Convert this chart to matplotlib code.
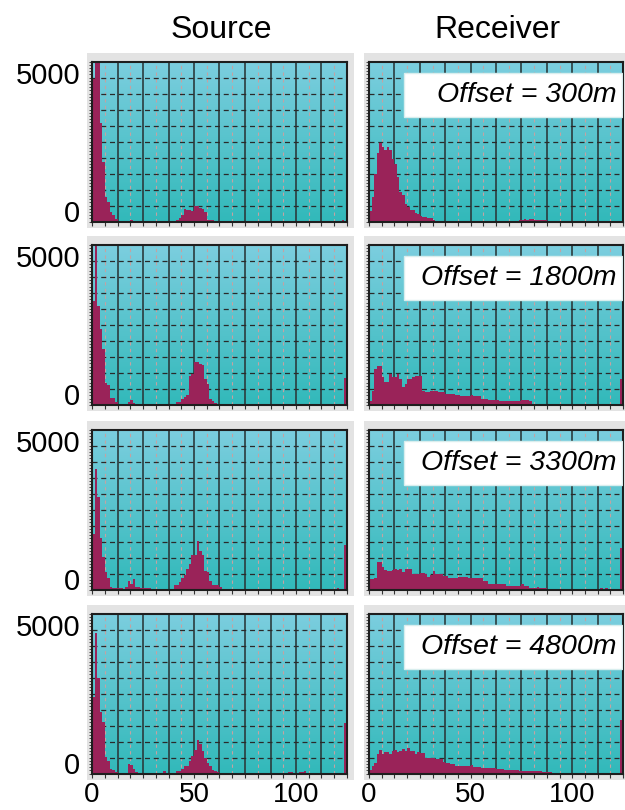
import numpy as np
import matplotlib
matplotlib.use('Agg')
import matplotlib.pyplot as plt
from matplotlib.patches import Rectangle
from matplotlib.ticker import MultipleLocator

# fold counts per bin: 100 bins of width 1.25 covering 0-125
src_300 = [4450, 5600, 5600, 3080, 1865, 760, 600, 290, 190, 90,
           30, 0, 0, 0, 0, 40, 0, 0, 0, 0,
           0, 0, 0, 0, 0, 0, 0, 0, 20, 0,
           0, 0, 0, 60, 100, 210, 380, 350, 350, 340,
           480, 470, 420, 380, 290, 60, 50, 50, 0, 0,
           0, 0, 0, 0, 0, 0, 0, 0, 0, 0,
           0, 0, 0, 0, 0, 0, 0, 0, 0, 0,
           0, 0, 0, 0, 0, 0, 0, 0, 0, 0,
           0, 0, 0, 0, 0, 0, 0, 0, 0, 0,
           0, 0, 0, 0, 0, 0, 0, 0, 40, 0]
rcv_300 = [325, 765, 1500, 2130, 2460, 2320, 2230, 2320, 2230, 1940,
           1810, 1390, 920, 820, 555, 450, 345, 345, 260, 220,
           170, 135, 135, 115, 115, 50, 30, 30, 20, 10,
           10, 0, 30, 0, 0, 0, 0, 0, 0, 0,
           0, 0, 0, 0, 0, 0, 0, 0, 0, 0,
           0, 0, 0, 0, 0, 0, 0, 0, 0, 60,
           60, 80, 60, 70, 70, 60, 60, 50, 50, 40,
           30, 0, 0, 0, 0, 0, 0, 0, 0, 0,
           0, 0, 0, 0, 0, 0, 0, 0, 0, 0,
           0, 0, 0, 0, 0, 0, 0, 0, 0, 0]
src_1800 = [3260, 5400, 3100, 2375, 1750, 680, 635, 220, 220, 85,
            30, 0, 0, 0, 85, 155, 50, 0, 0, 0,
            0, 0, 0, 0, 0, 0, 0, 0, 0, 40,
            40, 40, 40, 100, 100, 190, 240, 310, 920, 970,
            1330, 1330, 1280, 1260, 810, 655, 190, 135, 50, 0,
            30, 0, 0, 0, 0, 0, 0, 0, 0, 0,
            0, 0, 0, 0, 0, 0, 0, 0, 0, 0,
            0, 0, 0, 0, 0, 0, 0, 0, 0, 0,
            0, 0, 0, 0, 0, 0, 0, 0, 0, 0,
            0, 0, 0, 0, 0, 0, 0, 0, 0, 835]
rcv_1800 = [135, 450, 1125, 1230, 1230, 865, 710, 710, 970, 865,
            865, 970, 810, 550, 655, 810, 810, 865, 920, 920,
            920, 450, 395, 395, 430, 430, 430, 395, 395, 395,
            345, 345, 345, 345, 320, 320, 270, 270, 270, 270,
            310, 270, 270, 270, 190, 190, 190, 155, 155, 155,
            155, 135, 135, 115, 115, 135, 115, 115, 115, 135,
            155, 155, 155, 115, 30, 30, 10, 30, 30, 0,
            0, 0, 0, 0, 0, 0, 0, 0, 0, 0,
            0, 0, 0, 0, 0, 0, 0, 0, 0, 0,
            0, 0, 0, 0, 0, 0, 0, 0, 0, 810]
src_3300 = [1740, 3770, 2905, 1615, 1010, 540, 365, 75, 50, 50,
            40, 40, 20, 70, 260, 180, 330, 85, 85, 50,
            50, 50, 50, 0, 30, 0, 0, 0, 30, 0,
            30, 0, 135, 135, 240, 350, 450, 650, 790, 1070,
            1090, 1510, 1200, 1070, 570, 550, 270, 155, 135, 130,
            80, 20, 0, 0, 0, 0, 0, 0, 0, 0,
            0, 0, 0, 0, 0, 0, 0, 0, 0, 0,
            0, 0, 0, 0, 0, 0, 0, 0, 0, 0,
            0, 0, 0, 0, 0, 0, 0, 0, 0, 0,
            0, 0, 0, 0, 0, 0, 50, 0, 0, 1400]
rcv_3300 = [320, 340, 350, 860, 860, 700, 600, 570, 570, 600,
            655, 600, 655, 560, 630, 630, 630, 500, 500, 500,
            530, 530, 470, 395, 450, 570, 500, 470, 470, 425,
            425, 365, 365, 365, 365, 385, 385, 385, 385, 365,
            365, 365, 345, 345, 345, 280, 280, 165, 165, 185,
            185, 185, 165, 165, 115, 115, 115, 115, 115, 115,
            165, 115, 115, 50, 50, 50, 80, 50, 50, 50,
            0, 0, 0, 0, 0, 0, 0, 0, 0, 0,
            0, 0, 0, 0, 0, 0, 0, 0, 0, 0,
            0, 50, 0, 50, 0, 0, 0, 0, 0, 1300]
src_4800 = [2385, 4400, 2975, 1930, 1600, 510, 400, 150, 125, 40,
            20, 0, 0, 0, 290, 270, 150, 50, 0, 0,
            0, 0, 0, 0, 0, 0, 0, 0, 70, 0,
            0, 0, 0, 90, 90, 145, 230, 230, 385, 540,
            750, 1060, 920, 695, 490, 330, 230, 125, 70, 40,
            0, 0, 0, 0, 0, 0, 0, 0, 0, 0,
            0, 0, 0, 0, 0, 0, 0, 0, 0, 0,
            0, 0, 0, 0, 0, 0, 0, 50, 50, 0,
            0, 50, 50, 80, 0, 0, 0, 0, 0, 0,
            0, 0, 0, 0, 0, 0, 0, 0, 0, 1575]
rcv_4800 = [125, 250, 330, 620, 745, 620, 665, 665, 620, 695,
            725, 665, 695, 765, 695, 800, 695, 695, 620, 665,
            640, 640, 490, 490, 470, 470, 460, 460, 460, 350,
            330, 330, 300, 300, 250, 250, 250, 250, 230, 230,
            270, 200, 200, 200, 175, 175, 175, 175, 175, 175,
            145, 145, 145, 125, 125, 125, 125, 125, 125, 70,
            70, 70, 70, 90, 90, 70, 70, 70, 40, 40,
            40, 40, 20, 20, 20, 20, 20, 0, 0, 0,
            0, 0, 0, 0, 0, 0, 0, 0, 0, 0,
            0, 0, 0, 0, 0, 0, 0, 0, 0, 1660]

offsets = ['300m', '1800m', '3300m', '4800m']
source = [src_300, src_1800, src_3300, src_4800]
receiver = [rcv_300, rcv_1800, rcv_3300, rcv_4800]

bin_w = 1.25
x_max = 125
y_max = 5000
edges = np.arange(len(src_300) + 1) * bin_w

bar_col = '#9a2359'
top_c = np.array([124, 206, 223]) / 255.
bot_c = np.array([50, 185, 186]) / 255.

matplotlib.rcParams.update({'font.family': 'Liberation Sans', 'font.size': 21})

W, H = 625., 810.
fig = plt.figure(figsize=(W / 100, H / 100), dpi=100)

col_x = [92, 369]
col_w = [255, 254]
row_top = [61.5, 245, 429.5, 613.5]
row_h = 160

g = np.linspace(0, 1, 256)[:, None, None]
grad = top_c * (1 - g) + bot_c * g


def panel(ax, counts, label_y, label_x, off=None):
    ax.imshow(grad, extent=[0, 1, 0, 1], transform=ax.transAxes,
              aspect='auto', zorder=0, interpolation='bilinear')
    for k in range(1, 10):
        ax.axvline(k * 12.5, color='#2b3c3e', lw=1.2, zorder=1)
    for k in range(10):
        ax.axvline(6.25 + k * 12.5, color='#c4a2a2', lw=0.8,
                   ls=(0, (3, 3)), zorder=1)
    for k in range(1, 10):
        ax.axhline(k * 500, color='#2a2a2a', lw=0.9, ls=(0, (4, 3)), zorder=1)

    ax.stairs(counts, edges, fill=True, color=bar_col, lw=0, zorder=2)

    ax.set_xlim(0, x_max)
    ax.set_ylim(0, y_max)
    ax.set_xticks([0, 50, 100])
    ax.xaxis.set_minor_locator(MultipleLocator(6.25))
    ax.set_yticks([0, 5000])
    ax.yaxis.set_minor_locator(MultipleLocator(100))
    ax.tick_params(axis='x', which='both', direction='out', length=3,
                   width=0.8, color='#333333', pad=3, labelsize=20,
                   labelbottom=label_x)
    ax.tick_params(axis='y', which='both', direction='out', length=2.5,
                   width=0.6, color='#333333', pad=6, labelsize=21,
                   labelleft=label_y)
    yt = ax.yaxis.get_major_ticks()
    yt[0].label1.set_va('baseline')
    yt[1].label1.set_va('top')
    for s in ax.spines.values():
        s.set_linewidth(1.5)
        s.set_color('#1e1e1e')

    # grey mount behind each plot
    pos = ax.get_position()
    fig.add_artist(Rectangle((pos.x0 - 5 / W, pos.y0 - 6 / H),
                             pos.width + 12 / W, pos.height + 15 / H,
                             transform=fig.transFigure, facecolor='#e3e3e3',
                             edgecolor='none', zorder=-1))

    if off is not None:
        ax.add_patch(Rectangle((0.138, 0.654), 0.858, 0.277,
                               transform=ax.transAxes, facecolor='white',
                               edgecolor='#d8eeee', lw=1, zorder=5))
        ax.text(0.976, 0.792, 'Offset = ' + off, transform=ax.transAxes,
                ha='right', va='center', style='italic', fontsize=20.5,
                zorder=6)


for i in range(4):
    bottom = 1 - (row_top[i] + row_h) / H
    for j in range(2):
        ax = fig.add_axes([col_x[j] / W, bottom, col_w[j] / W, row_h / H])
        if j == 0:
            panel(ax, source[i], True, i == 3)
        else:
            panel(ax, receiver[i], False, i == 3, offsets[i])

fig.text(221 / W, 1 - 30 / H, 'Source', ha='center', va='center', fontsize=23)
fig.text(497 / W, 1 - 30 / H, 'Receiver', ha='center', va='center', fontsize=23)

fig.savefig('out.png', dpi=100)
